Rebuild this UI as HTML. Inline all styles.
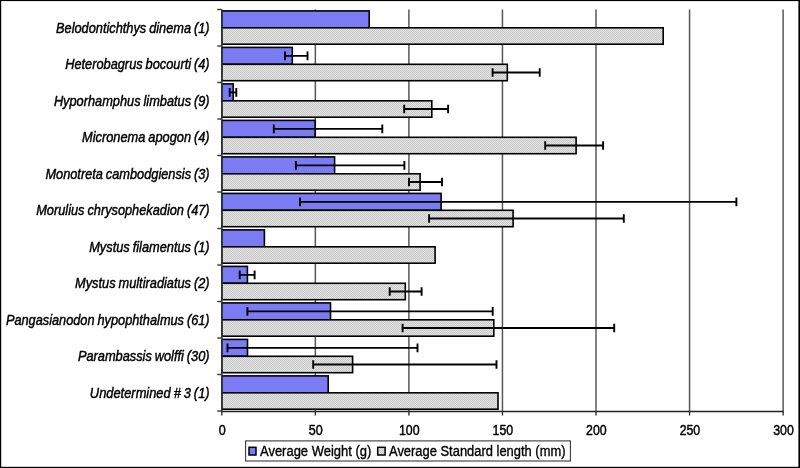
<!DOCTYPE html>
<html><head><meta charset="utf-8"><style>
html,body{margin:0;padding:0;background:#fff;width:800px;height:468px;overflow:hidden}
svg{display:block;will-change:transform}
text{font-family:"Liberation Sans",sans-serif}
</style></head><body>
<svg width="800" height="468" viewBox="0 0 800 468">
<defs><pattern id="pt" width="2" height="2" patternUnits="userSpaceOnUse"><rect width="2" height="2" fill="#e2e2e2"/><rect width="1" height="1" fill="#c9c9c9"/><rect x="1" y="1" width="1" height="1" fill="#c9c9c9"/></pattern></defs>
<rect x="0" y="0" width="800" height="468" fill="#fff"/>
<line x1="315.35" y1="9.50" x2="315.35" y2="411.00" stroke="#585858" stroke-width="1.5"/>
<line x1="408.90" y1="9.50" x2="408.90" y2="411.00" stroke="#585858" stroke-width="1.5"/>
<line x1="502.45" y1="9.50" x2="502.45" y2="411.00" stroke="#585858" stroke-width="1.5"/>
<line x1="596.00" y1="9.50" x2="596.00" y2="411.00" stroke="#585858" stroke-width="1.5"/>
<line x1="689.55" y1="9.50" x2="689.55" y2="411.00" stroke="#585858" stroke-width="1.5"/>
<line x1="783.10" y1="9.50" x2="783.10" y2="411.00" stroke="#585858" stroke-width="1.5"/>
<rect x="221.80" y="10.90" width="147.40" height="16.90" fill="#7b7bf4" stroke="#000" stroke-width="1.6"/>
<rect x="221.80" y="27.80" width="441.40" height="16.40" fill="url(#pt)" stroke="#000" stroke-width="1.6"/>
<rect x="221.80" y="47.40" width="70.50" height="16.90" fill="#7b7bf4" stroke="#000" stroke-width="1.6"/>
<rect x="221.80" y="64.30" width="285.50" height="16.40" fill="url(#pt)" stroke="#000" stroke-width="1.6"/>
<path d="M285.00 55.85H307.50M285.00 51.55V60.15M307.50 51.55V60.15" stroke="#000" stroke-width="1.9" fill="none"/>
<path d="M492.60 72.50H539.70M492.60 68.20V76.80M539.70 68.20V76.80" stroke="#000" stroke-width="1.9" fill="none"/>
<rect x="221.80" y="83.90" width="11.40" height="16.90" fill="#7b7bf4" stroke="#000" stroke-width="1.6"/>
<rect x="221.80" y="100.80" width="210.00" height="16.40" fill="url(#pt)" stroke="#000" stroke-width="1.6"/>
<path d="M229.70 92.35H236.30M229.70 88.05V96.65M236.30 88.05V96.65" stroke="#000" stroke-width="1.9" fill="none"/>
<path d="M404.20 109.00H448.10M404.20 104.70V113.30M448.10 104.70V113.30" stroke="#000" stroke-width="1.9" fill="none"/>
<rect x="221.80" y="120.40" width="93.30" height="16.90" fill="#7b7bf4" stroke="#000" stroke-width="1.6"/>
<rect x="221.80" y="137.30" width="354.30" height="16.40" fill="url(#pt)" stroke="#000" stroke-width="1.6"/>
<path d="M273.80 128.85H382.30M273.80 124.55V133.15M382.30 124.55V133.15" stroke="#000" stroke-width="1.9" fill="none"/>
<path d="M545.20 145.50H603.10M545.20 141.20V149.80M603.10 141.20V149.80" stroke="#000" stroke-width="1.9" fill="none"/>
<rect x="221.80" y="156.90" width="112.80" height="16.90" fill="#7b7bf4" stroke="#000" stroke-width="1.6"/>
<rect x="221.80" y="173.80" width="198.30" height="16.40" fill="url(#pt)" stroke="#000" stroke-width="1.6"/>
<path d="M295.90 165.35H404.40M295.90 161.05V169.65M404.40 161.05V169.65" stroke="#000" stroke-width="1.9" fill="none"/>
<path d="M409.00 182.00H442.00M409.00 177.70V186.30M442.00 177.70V186.30" stroke="#000" stroke-width="1.9" fill="none"/>
<rect x="221.80" y="193.40" width="219.30" height="16.90" fill="#7b7bf4" stroke="#000" stroke-width="1.6"/>
<rect x="221.80" y="210.30" width="291.30" height="16.40" fill="url(#pt)" stroke="#000" stroke-width="1.6"/>
<path d="M300.00 201.85H736.40M300.00 197.55V206.15M736.40 197.55V206.15" stroke="#000" stroke-width="1.9" fill="none"/>
<path d="M429.10 218.50H623.80M429.10 214.20V222.80M623.80 214.20V222.80" stroke="#000" stroke-width="1.9" fill="none"/>
<rect x="221.80" y="229.90" width="42.60" height="16.90" fill="#7b7bf4" stroke="#000" stroke-width="1.6"/>
<rect x="221.80" y="246.80" width="213.30" height="16.40" fill="url(#pt)" stroke="#000" stroke-width="1.6"/>
<rect x="221.80" y="266.40" width="25.60" height="16.90" fill="#7b7bf4" stroke="#000" stroke-width="1.6"/>
<rect x="221.80" y="283.30" width="183.50" height="16.40" fill="url(#pt)" stroke="#000" stroke-width="1.6"/>
<path d="M239.70 274.85H254.60M239.70 270.55V279.15M254.60 270.55V279.15" stroke="#000" stroke-width="1.9" fill="none"/>
<path d="M389.70 291.50H421.60M389.70 287.20V295.80M421.60 287.20V295.80" stroke="#000" stroke-width="1.9" fill="none"/>
<rect x="221.80" y="302.90" width="108.70" height="16.90" fill="#7b7bf4" stroke="#000" stroke-width="1.6"/>
<rect x="221.80" y="319.80" width="272.00" height="16.40" fill="url(#pt)" stroke="#000" stroke-width="1.6"/>
<path d="M247.40 311.35H492.70M247.40 307.05V315.65M492.70 307.05V315.65" stroke="#000" stroke-width="1.9" fill="none"/>
<path d="M402.60 328.00H614.20M402.60 323.70V332.30M614.20 323.70V332.30" stroke="#000" stroke-width="1.9" fill="none"/>
<rect x="221.80" y="339.40" width="25.70" height="16.90" fill="#7b7bf4" stroke="#000" stroke-width="1.6"/>
<rect x="221.80" y="356.30" width="130.80" height="16.40" fill="url(#pt)" stroke="#000" stroke-width="1.6"/>
<path d="M227.50 347.85H417.50M227.50 343.55V352.15M417.50 343.55V352.15" stroke="#000" stroke-width="1.9" fill="none"/>
<path d="M313.20 364.50H496.50M313.20 360.20V368.80M496.50 360.20V368.80" stroke="#000" stroke-width="1.9" fill="none"/>
<rect x="221.80" y="375.90" width="106.40" height="16.90" fill="#7b7bf4" stroke="#000" stroke-width="1.6"/>
<rect x="221.80" y="392.80" width="276.20" height="16.40" fill="url(#pt)" stroke="#000" stroke-width="1.6"/>
<line x1="221.80" y1="9.50" x2="221.80" y2="411.80" stroke="#333" stroke-width="1.5"/>
<line x1="217.30" y1="9.50" x2="221.80" y2="9.50" stroke="#333" stroke-width="1.4"/>
<line x1="217.30" y1="46.00" x2="221.80" y2="46.00" stroke="#333" stroke-width="1.4"/>
<line x1="217.30" y1="82.50" x2="221.80" y2="82.50" stroke="#333" stroke-width="1.4"/>
<line x1="217.30" y1="119.00" x2="221.80" y2="119.00" stroke="#333" stroke-width="1.4"/>
<line x1="217.30" y1="155.50" x2="221.80" y2="155.50" stroke="#333" stroke-width="1.4"/>
<line x1="217.30" y1="192.00" x2="221.80" y2="192.00" stroke="#333" stroke-width="1.4"/>
<line x1="217.30" y1="228.50" x2="221.80" y2="228.50" stroke="#333" stroke-width="1.4"/>
<line x1="217.30" y1="265.00" x2="221.80" y2="265.00" stroke="#333" stroke-width="1.4"/>
<line x1="217.30" y1="301.50" x2="221.80" y2="301.50" stroke="#333" stroke-width="1.4"/>
<line x1="217.30" y1="338.00" x2="221.80" y2="338.00" stroke="#333" stroke-width="1.4"/>
<line x1="217.30" y1="374.50" x2="221.80" y2="374.50" stroke="#333" stroke-width="1.4"/>
<line x1="217.30" y1="411.00" x2="221.80" y2="411.00" stroke="#333" stroke-width="1.4"/>
<line x1="221.10" y1="411.50" x2="783.80" y2="411.50" stroke="#222" stroke-width="1.6"/>
<line x1="221.80" y1="411.00" x2="221.80" y2="415.50" stroke="#333" stroke-width="1.4"/>
<line x1="315.35" y1="411.00" x2="315.35" y2="415.50" stroke="#333" stroke-width="1.4"/>
<line x1="408.90" y1="411.00" x2="408.90" y2="415.50" stroke="#333" stroke-width="1.4"/>
<line x1="502.45" y1="411.00" x2="502.45" y2="415.50" stroke="#333" stroke-width="1.4"/>
<line x1="596.00" y1="411.00" x2="596.00" y2="415.50" stroke="#333" stroke-width="1.4"/>
<line x1="689.55" y1="411.00" x2="689.55" y2="415.50" stroke="#333" stroke-width="1.4"/>
<line x1="783.10" y1="411.00" x2="783.10" y2="415.50" stroke="#333" stroke-width="1.4"/>
<text x="209.6" y="32.50" text-anchor="end" font-family="Liberation Sans" font-style="italic" font-size="14.6" textLength="153.56" lengthAdjust="spacingAndGlyphs" word-spacing="-0.7" stroke="#000" stroke-width="0.45" fill="#000">Belodontichthys dinema (1)</text>
<text x="209.6" y="69.00" text-anchor="end" font-family="Liberation Sans" font-style="italic" font-size="14.6" textLength="144.40" lengthAdjust="spacingAndGlyphs" word-spacing="-0.7" stroke="#000" stroke-width="0.45" fill="#000">Heterobagrus bocourti (4)</text>
<text x="209.6" y="105.50" text-anchor="end" font-family="Liberation Sans" font-style="italic" font-size="14.6" textLength="155.71" lengthAdjust="spacingAndGlyphs" word-spacing="-0.7" stroke="#000" stroke-width="0.45" fill="#000">Hyporhamphus limbatus (9)</text>
<text x="209.6" y="142.00" text-anchor="end" font-family="Liberation Sans" font-style="italic" font-size="14.6" textLength="127.53" lengthAdjust="spacingAndGlyphs" word-spacing="-0.7" stroke="#000" stroke-width="0.45" fill="#000">Micronema apogon (4)</text>
<text x="209.6" y="178.50" text-anchor="end" font-family="Liberation Sans" font-style="italic" font-size="14.6" textLength="164.19" lengthAdjust="spacingAndGlyphs" word-spacing="-0.7" stroke="#000" stroke-width="0.45" fill="#000">Monotreta cambodgiensis (3)</text>
<text x="209.6" y="215.00" text-anchor="end" font-family="Liberation Sans" font-style="italic" font-size="14.6" textLength="173.36" lengthAdjust="spacingAndGlyphs" word-spacing="-0.7" stroke="#000" stroke-width="0.45" fill="#000">Morulius chrysophekadion (47)</text>
<text x="209.6" y="251.50" text-anchor="end" font-family="Liberation Sans" font-style="italic" font-size="14.6" textLength="120.41" lengthAdjust="spacingAndGlyphs" word-spacing="-0.7" stroke="#000" stroke-width="0.45" fill="#000">Mystus filamentus (1)</text>
<text x="209.6" y="288.00" text-anchor="end" font-family="Liberation Sans" font-style="italic" font-size="14.6" textLength="134.55" lengthAdjust="spacingAndGlyphs" word-spacing="-0.7" stroke="#000" stroke-width="0.45" fill="#000">Mystus multiradiatus (2)</text>
<text x="209.6" y="324.50" text-anchor="end" font-family="Liberation Sans" font-style="italic" font-size="14.6" textLength="203.68" lengthAdjust="spacingAndGlyphs" word-spacing="-0.7" stroke="#000" stroke-width="0.45" fill="#000">Pangasianodon hypophthalmus (61)</text>
<text x="209.6" y="361.00" text-anchor="end" font-family="Liberation Sans" font-style="italic" font-size="14.6" textLength="131.72" lengthAdjust="spacingAndGlyphs" word-spacing="-0.7" stroke="#000" stroke-width="0.45" fill="#000">Parambassis wolffi (30)</text>
<text x="209.6" y="397.50" text-anchor="end" font-family="Liberation Sans" font-style="italic" font-size="14.6" textLength="119.73" lengthAdjust="spacingAndGlyphs" word-spacing="-0.7" stroke="#000" stroke-width="0.45" fill="#000">Undetermined # 3 (1)</text>
<text x="222.20" y="435.3" text-anchor="middle" font-family="Liberation Sans" font-size="14.3" textLength="7.00" lengthAdjust="spacingAndGlyphs" stroke="#000" stroke-width="0.45" fill="#000">0</text>
<text x="315.75" y="435.3" text-anchor="middle" font-family="Liberation Sans" font-size="14.3" textLength="14.00" lengthAdjust="spacingAndGlyphs" stroke="#000" stroke-width="0.45" fill="#000">50</text>
<text x="409.30" y="435.3" text-anchor="middle" font-family="Liberation Sans" font-size="14.3" textLength="20.60" lengthAdjust="spacingAndGlyphs" stroke="#000" stroke-width="0.45" fill="#000">100</text>
<text x="502.85" y="435.3" text-anchor="middle" font-family="Liberation Sans" font-size="14.3" textLength="20.60" lengthAdjust="spacingAndGlyphs" stroke="#000" stroke-width="0.45" fill="#000">150</text>
<text x="596.40" y="435.3" text-anchor="middle" font-family="Liberation Sans" font-size="14.3" textLength="20.60" lengthAdjust="spacingAndGlyphs" stroke="#000" stroke-width="0.45" fill="#000">200</text>
<text x="689.95" y="435.3" text-anchor="middle" font-family="Liberation Sans" font-size="14.3" textLength="20.60" lengthAdjust="spacingAndGlyphs" stroke="#000" stroke-width="0.45" fill="#000">250</text>
<text x="783.50" y="435.3" text-anchor="middle" font-family="Liberation Sans" font-size="14.3" textLength="20.60" lengthAdjust="spacingAndGlyphs" stroke="#000" stroke-width="0.45" fill="#000">300</text>
<rect x="245.6" y="440.9" width="324.8" height="20.1" fill="#fff" stroke="#3a3a3a" stroke-width="1.1"/>
<rect x="249" y="447.3" width="7" height="7.7" fill="#7b7bf4" stroke="#000" stroke-width="1.5"/>
<text x="260" y="456" font-family="Liberation Sans" font-size="14" textLength="111.3" lengthAdjust="spacingAndGlyphs" stroke="#000" stroke-width="0.35" fill="#000">Average Weight (g)</text>
<rect x="377.7" y="447.3" width="7.4" height="7.7" fill="url(#pt)" stroke="#000" stroke-width="1.5"/>
<text x="389" y="456" font-family="Liberation Sans" font-size="14" textLength="176.5" lengthAdjust="spacingAndGlyphs" stroke="#000" stroke-width="0.35" fill="#000">Average Standard length (mm)</text>
<rect x="0" y="0" width="800" height="1.1" fill="#000"/>
<rect x="0" y="0" width="1.2" height="468" fill="#000"/>
<rect x="798.4" y="0" width="1.6" height="468" fill="#000"/>
<rect x="0" y="466.8" width="800" height="1.2" fill="#000"/>
</svg>
</body></html>
